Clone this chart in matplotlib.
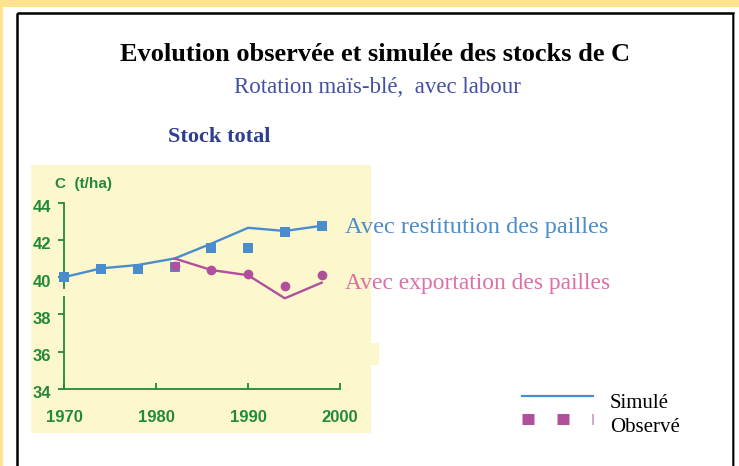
import matplotlib
matplotlib.use("Agg")
import matplotlib.pyplot as plt
from matplotlib.patches import Rectangle
from matplotlib.lines import Line2D
from matplotlib.transforms import ScaledTranslation

# ---- data ----
years_sim_rest = [1970, 1974, 1978, 1982, 1986, 1990, 1994, 1998]
sim_rest = [40.0, 40.47, 40.65, 41.0, 41.8, 42.65, 42.48, 42.76]
years_obs_rest = [1970, 1974, 1978, 1982, 1986, 1990, 1994, 1998]
obs_rest = [40.0, 40.45, 40.45, 40.55, 41.58, 41.58, 42.4, 42.75]
years_sim_exp = [1982, 1986, 1990, 1994, 1998]
sim_exp = [41.0, 40.38, 40.1, 38.86, 39.7]
years_obs_exp = [1982, 1986, 1990, 1994, 1998]
obs_exp = [40.6, 40.38, 40.15, 39.54, 40.1]
xticks = [1970, 1980, 1990, 2000]
yticks = [34, 36, 38, 40, 42, 44]

title = "Evolution observée et simulée des stocks de C"
subtitle = "Rotation maïs-blé,  avec labour"
panel_title = "Stock total"
ylabel = "C  (t/ha)"
label_rest = "Avec restitution des pailles"
label_exp = "Avec exportation des pailles"
leg_sim = "Simulé"
leg_obs = "Observé"

BLUE = "#4A8DCC"
PURPLE = "#B0509C"
PINK = "#DE6FA6"
GREEN = "#23893A"
NAVY = "#2E3F90"
SUB = "#4450A4"
CREAM = "#FDF7CE"
BAND = "#FFE38F"

W, H = 739, 466
fig = plt.figure(figsize=(W / 100, H / 100), dpi=100)
fig.patch.set_facecolor("white")

# background overlay in pixel coordinates
bg = fig.add_axes([0, 0, 1, 1])
bg.set_xlim(0, W)
bg.set_ylim(H, 0)
bg.axis("off")
bg.add_patch(Rectangle((0, 0), W, 7, color=BAND, lw=0))
bg.add_patch(Rectangle((0, 0), 2.5, H, color=BAND, lw=0))
bg.add_patch(Rectangle((17, 13), 716, 470, fill=False, ec="black", lw=1.8))
bg.add_patch(Rectangle((733.5, 14), 1.5, 470, color="#9a9a9a", lw=0))
bg.add_patch(Rectangle((31, 165), 340, 268, color=CREAM, lw=0))
bg.add_patch(Rectangle((370, 343), 9, 22, color=CREAM, lw=0))

serif = ["Liberation Serif", "DejaVu Serif"]
sans = ["Liberation Sans", "DejaVu Sans"]
bg.text(375, 61, title, ha="center", va="baseline", fontsize=19,
        fontweight="bold", family=serif, color="black")
bg.text(377.5, 93, subtitle, ha="center", va="baseline", fontsize=16.5,
        family=serif, color=SUB)
bg.text(219, 141.5, panel_title, ha="center", va="baseline", fontsize=16,
        fontweight="bold", family=serif, color=NAVY)
bg.text(55, 188, ylabel, ha="left", va="baseline", fontsize=11,
        fontweight="bold", family=sans, color=GREEN)
bg.text(345, 233.5, label_rest, ha="left", va="baseline", fontsize=17.6,
        family=serif, color=BLUE)
bg.text(345, 289.5, label_exp, ha="left", va="baseline", fontsize=16.9,
        family=serif, color=PINK)

# legend
bg.add_line(Line2D([522, 593], [395.7, 395.7], color=BLUE, lw=1.6))
lw_obs = 7.9
leg_obs_line = Line2D([522, 593], [418.8, 418.8], color=PURPLE, lw=lw_obs,
                      solid_capstyle="butt", dash_capstyle="butt",
                      linestyle=(0, (8.64 / lw_obs, 16.56 / lw_obs)))
bg.add_line(leg_obs_line)
bg.text(610, 407.5, leg_sim, ha="left", va="baseline", fontsize=15,
        family=serif, color="black")
bg.text(610, 431.5, leg_obs, ha="left", va="baseline", fontsize=15,
        family=serif, color="black")

# ---- data axes ----
x0, x1 = 64.3, 340.0
ytop, ybot = 202.7, 388.7
ax = fig.add_axes([x0 / W, (H - ybot) / H, (x1 - x0) / W, (ybot - ytop) / H])
ax.patch.set_alpha(0)
ax.set_xlim(1970, 2000)
ax.set_ylim(34, 44)
for s in ["top", "right"]:
    ax.spines[s].set_visible(False)
ax.spines["bottom"].set_color(GREEN)
ax.spines["left"].set_color(GREEN)
ax.spines["bottom"].set_linewidth(1.3)
ax.spines["left"].set_linewidth(1.3)
ax.spines["left"].set_bounds(34, 38.95)
ax.axvline(1970, ymin=(39.43 - 34) / 10, ymax=1, color=GREEN, lw=1.3,
           clip_on=False, zorder=1)
ax.set_xticks(xticks)
ax.set_yticks(yticks)
ax.tick_params(axis="x", direction="in", length=4, width=1.3, color=GREEN,
               pad=15.5, labelsize=12, labelcolor=GREEN)
ax.tick_params(axis="y", direction="out", length=4, width=1.3, color=GREEN,
               pad=5.5, labelsize=12, labelcolor=GREEN)
for lab in ax.get_xticklabels() + ax.get_yticklabels():
    lab.set_fontweight("bold")
    lab.set_family(sans)
offset = ScaledTranslation(0, -2.5 / 72, fig.dpi_scale_trans)
for lab in ax.get_yticklabels():
    lab.set_transform(lab.get_transform() + offset)

ax.plot(years_sim_rest, sim_rest, color=BLUE, lw=1.7, zorder=3, clip_on=False)
ax.plot(years_sim_exp, sim_exp, color=PURPLE, lw=1.7, zorder=3, clip_on=False)
ax.plot(years_obs_rest, obs_rest, "s", color=BLUE, ms=7, mew=0, zorder=4,
        clip_on=False)
ax.plot(years_obs_exp, obs_exp, "o", color=PURPLE, ms=7, mew=0, zorder=5,
        clip_on=False)

fig.savefig("out.png", dpi=100)
